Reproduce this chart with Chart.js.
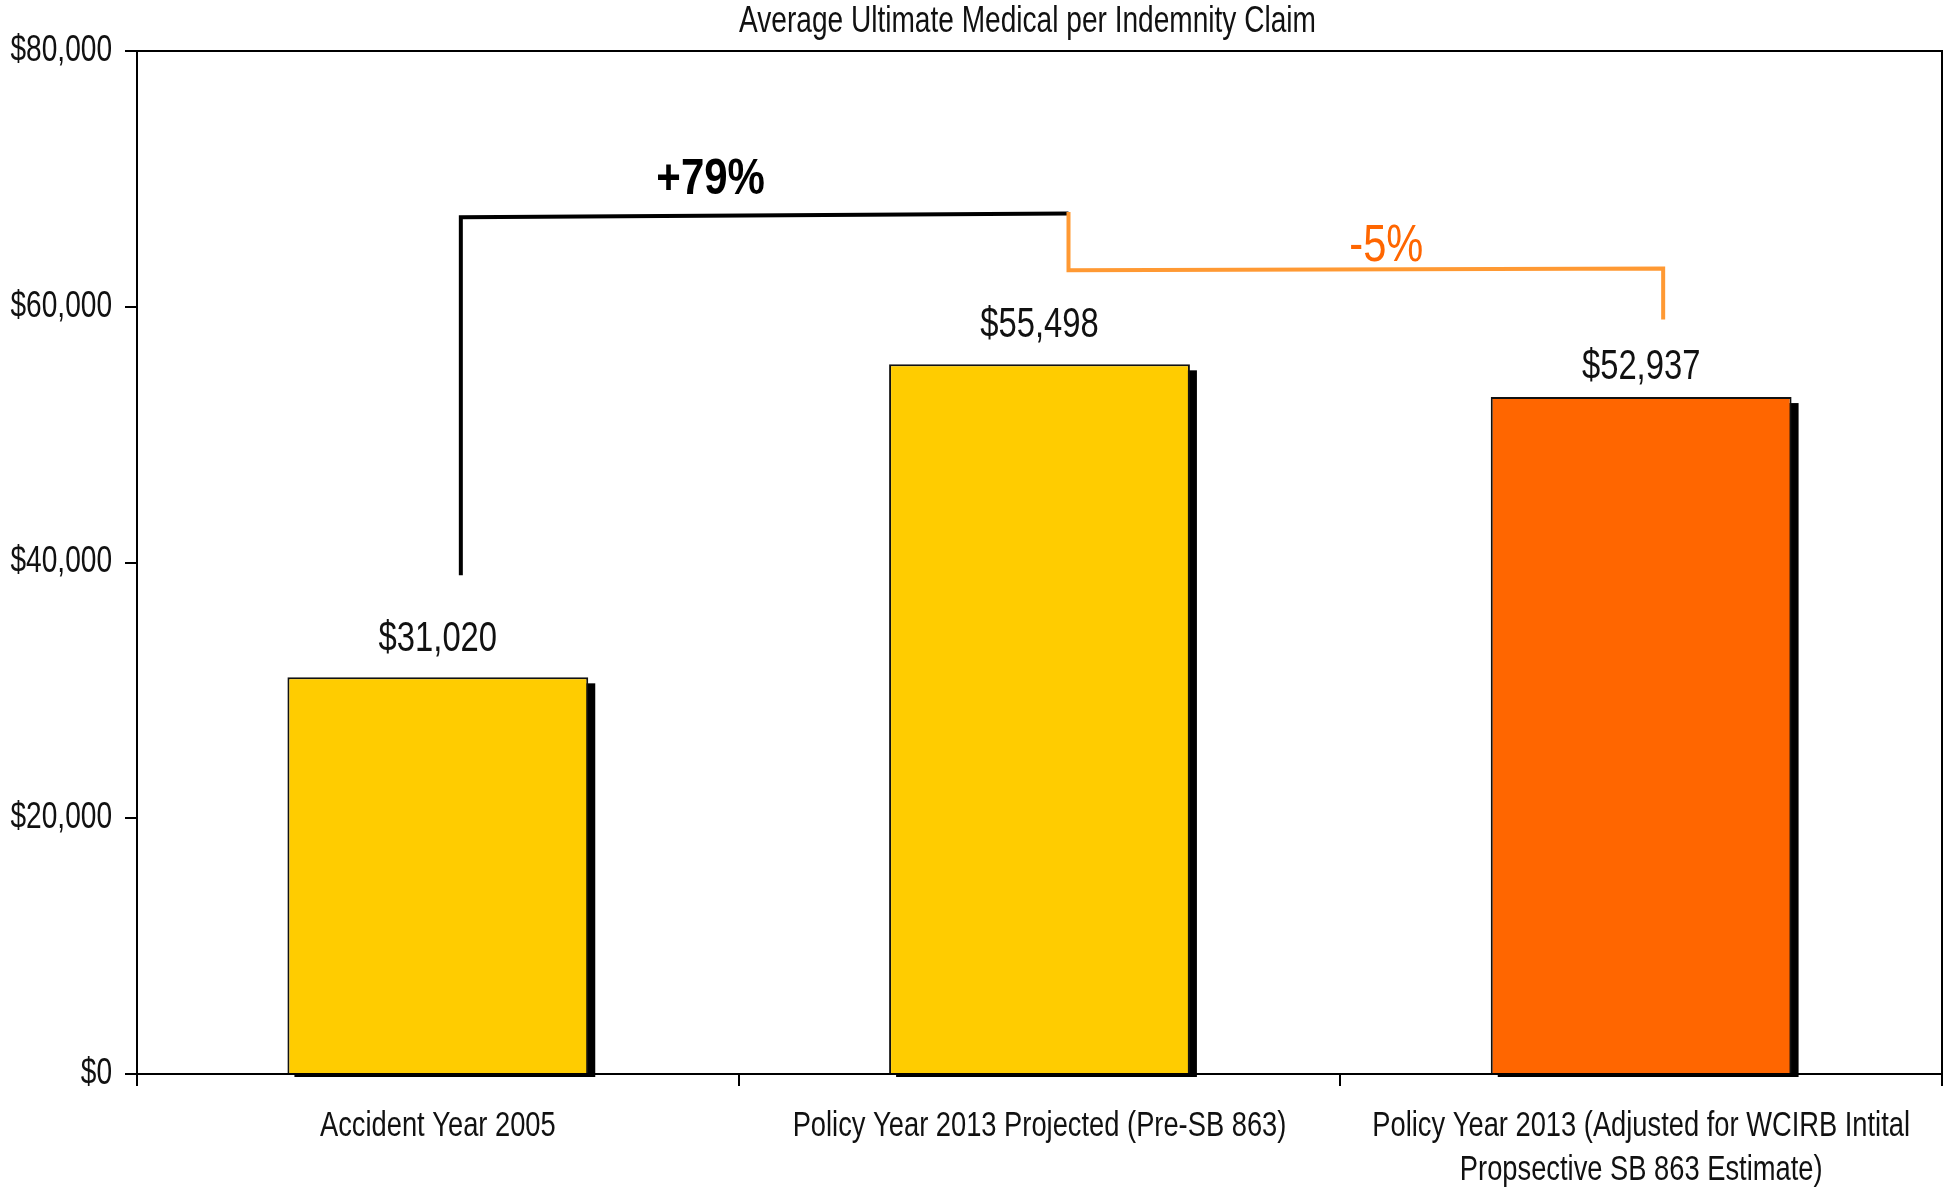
<!DOCTYPE html>
<html>
<head>
<meta charset="utf-8">
<script src="https://cdn.jsdelivr.net/npm/chart.js@4.4.1/dist/chart.umd.min.js"></script>
<style>
html, body { margin: 0; padding: 0; background: #fff; }
#wrap { width: 1950px; height: 1188px; }
</style>
</head>
<body>
<div id="wrap"><canvas id="chart" width="1950" height="1188"></canvas></div>
<script>

const FONT = "'Liberation Sans', Arial, sans-serif"

// chart data
const chartTitle = 'Average Ultimate Medical per Indemnity Claim'
const categories = [
  ['Accident Year 2005'],
  ['Policy Year 2013 Projected (Pre-SB 863)'],
  ['Policy Year 2013 (Adjusted for WCIRB Intital', 'Propsective SB 863 Estimate)']
]
const avgMedical = [31020, 55498, 52937]
const barColors = ['#FFCC00', '#FFCC00', '#FF6600']
const yTicks = [0, 20000, 40000, 60000, 80000]
const changeLabels = ['+79%', '-5%']

function money(v){
  return '$' + Math.round(v).toLocaleString('en-US')
}

// narrow text: regular face squeezed horizontally
function narrowText(ctx, text, x, y, size, o){
  o = o || {}
  ctx.save()
  ctx.font = (o.weight || 'normal') + ' ' + size + 'px ' + FONT
  ctx.fillStyle = o.color || '#111'
  ctx.textAlign = o.align || 'center'
  ctx.textBaseline = 'middle'
  ctx.translate(x, y)
  ctx.scale(o.sx || 0.78, 1)
  ctx.fillText(text, 0, 0)
  ctx.restore()
}

// title and axis labels
const axisText = {
  id: 'axisText',
  afterDraw(chart){
    const ctx = chart.ctx
    const a = chart.chartArea
    const x = chart.scales.x
    const y = chart.scales.y

    narrowText(ctx, chartTitle, (a.left + a.right) / 2 - 12, 22, 36)

    yTicks.forEach(v => {
      narrowText(ctx, money(v), a.left - 25, y.getPixelForValue(v), 36, { align: 'right' })
    })

    categories.forEach((lines, i) => {
      lines.forEach((line, j) => {
        narrowText(ctx, line, x.getPixelForValue(i), a.bottom + 52 + j * 44, 35)
      })
    })
  }
}

// black drop shadow behind the bars
const barShadow = {
  id: 'barShadow',
  beforeDatasetsDraw(chart){
    const ctx = chart.ctx
    const meta = chart.getDatasetMeta(0)
    ctx.save()
    ctx.fillStyle = '#000'
    meta.data.forEach(bar => {
      const p = bar.getProps(['x', 'y', 'base', 'width'], true)
      ctx.fillRect(p.x - p.width / 2 + 7, p.y + 6, p.width, p.base - p.y - 2)
    })
    ctx.restore()
  }
}

// frame around the plot area (top and right edges)
const plotFrame = {
  id: 'plotFrame',
  beforeDatasetsDraw(chart){
    const a = chart.chartArea
    const ctx = chart.ctx
    ctx.save()
    ctx.strokeStyle = '#000'
    ctx.lineWidth = 2
    ctx.strokeRect(a.left, a.top, a.right - a.left, a.bottom - a.top)
    ctx.restore()
  }
}

// value labels above each bar
const valueLabels = {
  id: 'valueLabels',
  afterDatasetsDraw(chart){
    const ctx = chart.ctx
    const meta = chart.getDatasetMeta(0)
    const gaps = [38, 39, 30]
    meta.data.forEach((bar, i) => {
      narrowText(ctx, money(avgMedical[i]), bar.x, bar.y - gaps[i], 42)
    })
  }
}

// change brackets between bars
const changeBrackets = {
  id: 'changeBrackets',
  afterDraw(chart){
    const ctx = chart.ctx
    const x = chart.scales.x
    const y = chart.scales.y
    const c0 = x.getPixelForValue(0)
    const c1 = x.getPixelForValue(1)
    const c2 = x.getPixelForValue(2)
    ctx.save()
    ctx.lineCap = 'butt'
    ctx.lineJoin = 'miter'

    // +79%
    ctx.strokeStyle = '#000'
    ctx.lineWidth = 4
    ctx.beginPath()
    ctx.moveTo(c0 + 23, y.getPixelForValue(39000))
    ctx.lineTo(c0 + 23, y.getPixelForValue(67000))
    ctx.lineTo(c1 + 29, y.getPixelForValue(67300))
    ctx.stroke()

    // -5%
    ctx.strokeStyle = '#FF9933'
    ctx.beginPath()
    ctx.moveTo(c1 + 29, y.getPixelForValue(67400))
    ctx.lineTo(c1 + 29, y.getPixelForValue(62850))
    ctx.lineTo(c2 + 22, y.getPixelForValue(63000))
    ctx.lineTo(c2 + 22, y.getPixelForValue(59000))
    ctx.stroke()
    ctx.restore()

    narrowText(ctx, changeLabels[0], (c0 + c1) / 2 - 28, y.getPixelForValue(67000) - 37, 50,
      { weight: 'bold', sx: 0.84, color: '#000' })
    narrowText(ctx, changeLabels[1], (c1 + c2) / 2 + 46, y.getPixelForValue(63000) - 22, 52,
      { sx: 0.8, color: '#FF6600' })
  }
}

const ctx = document.getElementById('chart').getContext('2d')

new Chart(ctx, {
  type: 'bar',
  data: {
    labels: categories,
    datasets: [{
      data: avgMedical,
      backgroundColor: barColors,
      borderColor: '#111',
      borderWidth: 2,
      barPercentage: 0.5,
      categoryPercentage: 1.0,
      clip: false
    }]
  },
  options: {
    responsive: false,
    animation: false,
    layout: { padding: { left: 0, right: 8, top: 51, bottom: 0 } },
    plugins: {
      legend: { display: false },
      tooltip: { enabled: false },
      title: { display: false }
    },
    scales: {
      x: {
        offset: true,
        border: { color: '#000', width: 2 },
        grid: {
          offset: true,
          drawOnChartArea: false,
          drawTicks: true,
          tickLength: 12,
          color: '#000',
          lineWidth: 2
        },
        ticks: { display: false },
        afterFit(scale){ scale.height = 114 }
      },
      y: {
        min: 0,
        max: 80000,
        border: { color: '#000', width: 2 },
        grid: {
          drawOnChartArea: false,
          drawTicks: true,
          tickLength: 12,
          color: '#000',
          lineWidth: 2
        },
        ticks: { display: false, stepSize: 20000 },
        afterFit(scale){ scale.width = 137 }
      }
    }
  },
  plugins: [plotFrame, barShadow, valueLabels, changeBrackets, axisText]
})

</script>
</body>
</html>
